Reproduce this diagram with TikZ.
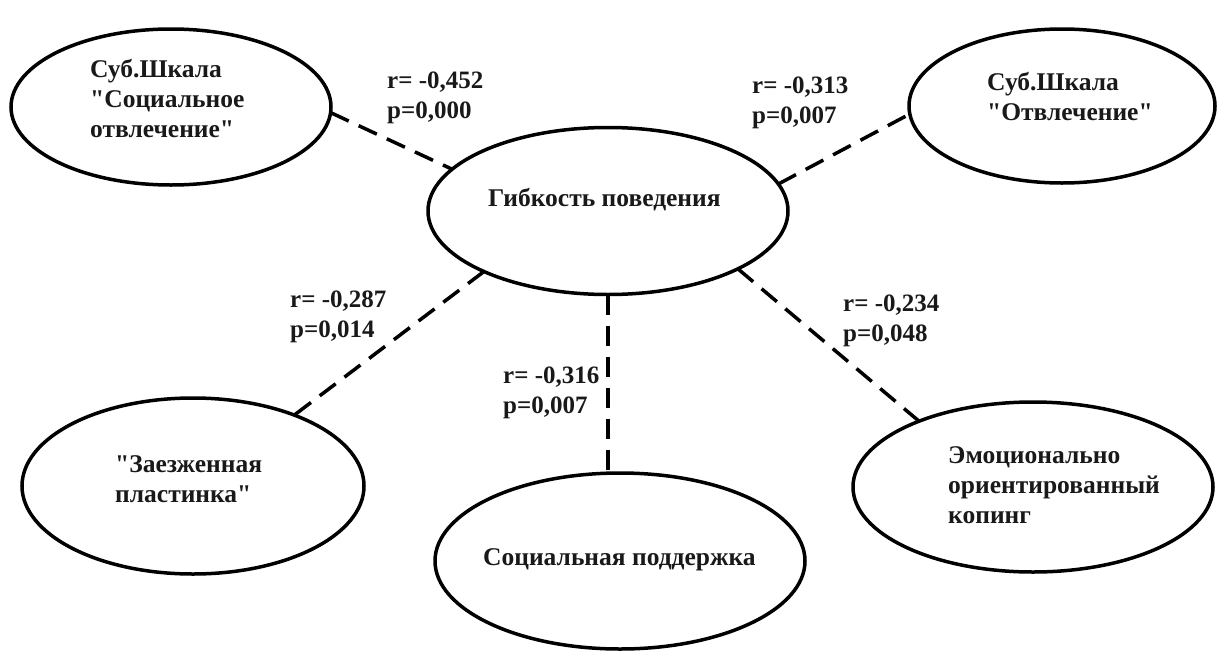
\documentclass[tikz,border=0pt]{standalone}
\usepackage{fontspec}
\setmainfont{Liberation Serif}[Ligatures=TeXOff]
\usetikzlibrary{shapes.geometric}
\begin{document}
\begin{tikzpicture}[x=1pt,y=-1pt,
  oval/.style={draw=black, line width=3.5pt, ellipse, inner sep=0pt, outer sep=0pt},
  link/.style={draw=black, line width=3.5pt, dash pattern=on 20pt off 11pt},
  txt/.style={font=\bfseries\fontsize{25.5}{30}\selectfont, align=left, anchor=base west, inner sep=0pt, text=black!90},
  lbl/.style={txt, font=\bfseries\fontsize{25}{30}\selectfont}]
\useasboundingbox[fill=white] (0,0) rectangle (1221,651);
% ellipses
\node[oval, minimum width=320pt, minimum height=156pt] (tl) at (171,107) {};
\node[oval, minimum width=306pt, minimum height=154pt] (tr) at (1062,106) {};
\node[oval, minimum width=360pt, minimum height=167pt] (c) at (608,211) {};
\node[oval, minimum width=342pt, minimum height=176pt] (bl) at (193,486) {};
\node[oval, minimum width=370pt, minimum height=176pt] (bc) at (620,561) {};
\node[oval, minimum width=360pt, minimum height=170pt] (br) at (1033,487) {};
% texts in ellipses (anchor = baseline of the last line)
\node[txt] (tlt) at (90,137) {Суб.Шкала\\"Социальное\\отвлечение"};
\node[txt] (trt) at (987,120) {Суб.Шкала\\"Отвлечение"};
\node[txt] (ct) at (488,206) {Гибкость поведения};
\node[txt] (blt) at (115,502) {"Заезженная\\пластинка"};
\node[txt] (bct) at (483,565) {Социальная поддержка};
\node[txt] (brt) at (948,523) {Эмоционально\\ориентированный\\копинг};
% connectors
\draw[link] (tl.-2.9) -- (c.165.5);
\draw[link] (c.9.2) -- (tr.183.4);
\draw[link] (c.206.4) -- (bl.35.6);
\draw[link] (c.south) -- (bc.north -| c.south);
\draw[link] (c.-24.1) -- (br.150);
% labels
\node[lbl] (l1) at (387,118) {r= -0,452\\p=0,000};
\node[lbl] (l2) at (752,123) {r= -0,313\\p=0,007};
\node[lbl] (l3) at (290,337) {r= -0,287\\p=0,014};
\node[lbl] (l4) at (503,413) {r= -0,316\\p=0,007};
\node[lbl] (l5) at (843,341) {r= -0,234\\p=0,048};
\end{tikzpicture}
\end{document}
